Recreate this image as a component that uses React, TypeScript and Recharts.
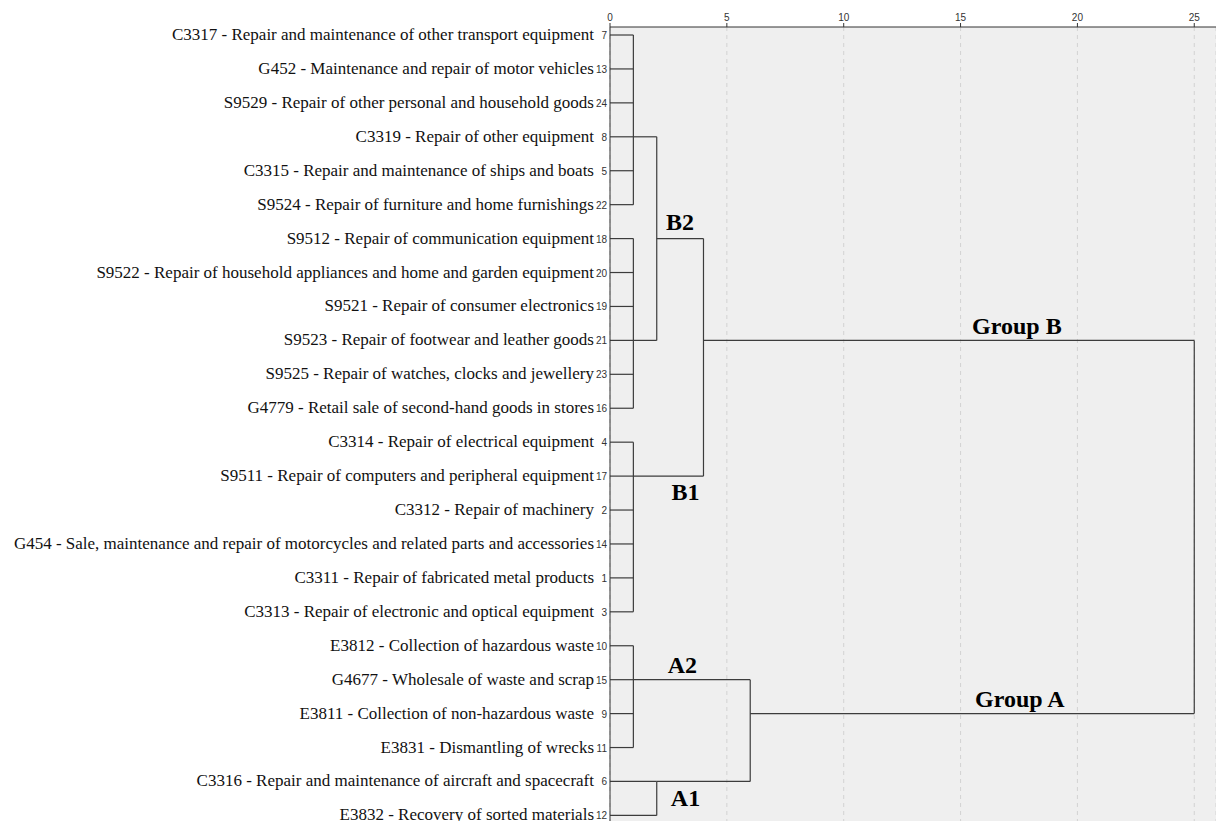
import React from 'react';
import { ComposedChart, XAxis, YAxis, CartesianGrid, ReferenceLine, ReferenceDot } from 'recharts';

const leafNames = [
  'C3317 - Repair and maintenance of other transport equipment',
  'G452 - Maintenance and repair of motor vehicles',
  'S9529 - Repair of other personal and household goods',
  'C3319 - Repair of other equipment',
  'C3315 - Repair and maintenance of ships and boats',
  'S9524 - Repair of furniture and home furnishings',
  'S9512 - Repair of communication equipment',
  'S9522 - Repair of household appliances and home and garden equipment',
  'S9521 - Repair of consumer electronics',
  'S9523 - Repair of footwear and leather goods',
  'S9525 - Repair of watches, clocks and jewellery',
  'G4779 - Retail sale of second-hand goods in stores',
  'C3314 - Repair of electrical equipment',
  'S9511 - Repair of computers and peripheral equipment',
  'C3312 - Repair of machinery',
  'G454 - Sale, maintenance and repair of motorcycles and related parts and accessories',
  'C3311 - Repair of fabricated metal products',
  'C3313 - Repair of electronic and optical equipment',
  'E3812 - Collection of hazardous waste',
  'G4677 - Wholesale of waste and scrap',
  'E3811 - Collection of non-hazardous waste',
  'E3831 - Dismantling of wrecks',
  'C3316 - Repair and maintenance of aircraft and spacecraft',
  'E3832 - Recovery of sorted materials',
];
const leafIds = [7, 13, 24, 8, 5, 22, 18, 20, 19, 21, 23, 16, 4, 17, 2, 14, 1, 3, 10, 15, 9, 11, 6, 12];

// Internal nodes of the dendrogram (rescaled distance)
const nodeNames = ['K1', 'K2', 'B2', 'K3', 'B', 'K4', 'A1', 'A', 'ALL'];
const nodeHeights = [1, 1, 2, 1, 4, 1, 2, 6, 25];
const nodeAnchorRows = [3, 9, 6, 13, 9, 19, 22, 20, 14];
const nodeChildren = [
  ['L0', 'L1', 'L2', 'L3', 'L4', 'L5'],
  ['L6', 'L7', 'L8', 'L9', 'L10', 'L11'],
  ['K1', 'K2'],
  ['L12', 'L13', 'L14', 'L15', 'L16', 'L17'],
  ['B2', 'K3'],
  ['L18', 'L19', 'L20', 'L21'],
  ['L22', 'L23'],
  ['K4', 'A1'],
  ['B', 'A'],
];

const xTicks = [0, 5, 10, 15, 20, 25];

const annotationTexts = ['B2', 'B1', 'A2', 'A1', 'Group B', 'Group A'];
const annotationX = [3.0, 3.23, 3.1, 3.23, 17.41, 17.54];
const annotationY = [5.51, 13.47, 18.57, 22.49, 8.58, 19.57];

const SERIF = '"Liberation Serif", "Times New Roman", serif';
const SANS = '"Liberation Sans", Arial, sans-serif';

type Seg = { x1: number; y1: number; x2: number; y2: number };

function buildSegments(): Seg[] {
  const segs: Seg[] = [];
  const info = (id: string) => {
    if (id.startsWith('L')) return { h: 0, row: Number(id.slice(1)) };
    const i = nodeNames.indexOf(id);
    return { h: nodeHeights[i], row: nodeAnchorRows[i] };
  };
  nodeNames.forEach((_, i) => {
    const h = nodeHeights[i];
    const kids = nodeChildren[i].map(info);
    const rows = kids.map((k) => k.row);
    segs.push({ x1: h, y1: Math.min(...rows), x2: h, y2: Math.max(...rows) });
    kids.forEach((k) => segs.push({ x1: k.h, y1: k.row, x2: h, y2: k.row }));
  });
  return segs;
}

const segments = buildSegments();

const LeafTick = (props: any) => {
  const { x, y, payload } = props;
  const row = payload.value as number;
  return (
    <g>
      <text x={x - 8} y={y} dy={5} textAnchor="end" fontFamily={SERIF} fontSize={17} fill="#111">
        {leafNames[row]}
      </text>
      <text x={x + 5} y={y} dy={4} textAnchor="end" fontFamily={SANS} fontSize={10} fill="#333">
        {leafIds[row]}
      </text>
    </g>
  );
};

export default function App() {
  return (
    <div style={{ position: 'absolute', left: 0, top: 0 }}>
      <ComposedChart width={1216} height={821} margin={{ top: 0, right: 0, bottom: 0, left: 0 }}>
        <CartesianGrid horizontal={false} vertical={true} strokeDasharray="4 4" stroke="#d2d2d2" fill="#efefef" />
        <XAxis
          type="number"
          dataKey="x"
          orientation="top"
          domain={[0, 25.93]}
          ticks={xTicks}
          allowDataOverflow
          height={27}
          tickSize={4}
          axisLine={{ stroke: '#333' }}
          tickLine={{ stroke: '#333' }}
          tick={{ fontFamily: SANS, fontSize: 10, fill: '#333' }}
        />
        <YAxis
          type="number"
          dataKey="y"
          domain={[-0.236, 23.165]}
          reversed
          allowDataOverflow
          ticks={leafNames.map((_, i) => i)}
          interval={0}
          width={610}
          tickLine={false}
          axisLine={{ stroke: '#333' }}
          tick={<LeafTick />}
        />
        {segments.map((s, i) => (
          <ReferenceLine
            key={i}
            segment={[{ x: s.x1, y: s.y1 }, { x: s.x2, y: s.y2 }]}
            stroke="#3c3c3c"
            strokeWidth={1.2}
            ifOverflow="visible"
          />
        ))}
        {annotationTexts.map((t, i) => (
          <ReferenceDot
            key={t}
            x={annotationX[i]}
            y={annotationY[i]}
            r={0}
            ifOverflow="visible"
            shape={(p: any) => (
              <text
                x={p.cx}
                y={p.cy}
                textAnchor="middle"
                dominantBaseline="central"
                fontFamily={SERIF}
                fontWeight="bold"
                fontSize={24}
                fill="#000"
              >
                {t}
              </text>
            )}
          />
        ))}
      </ComposedChart>
    </div>
  );
}
